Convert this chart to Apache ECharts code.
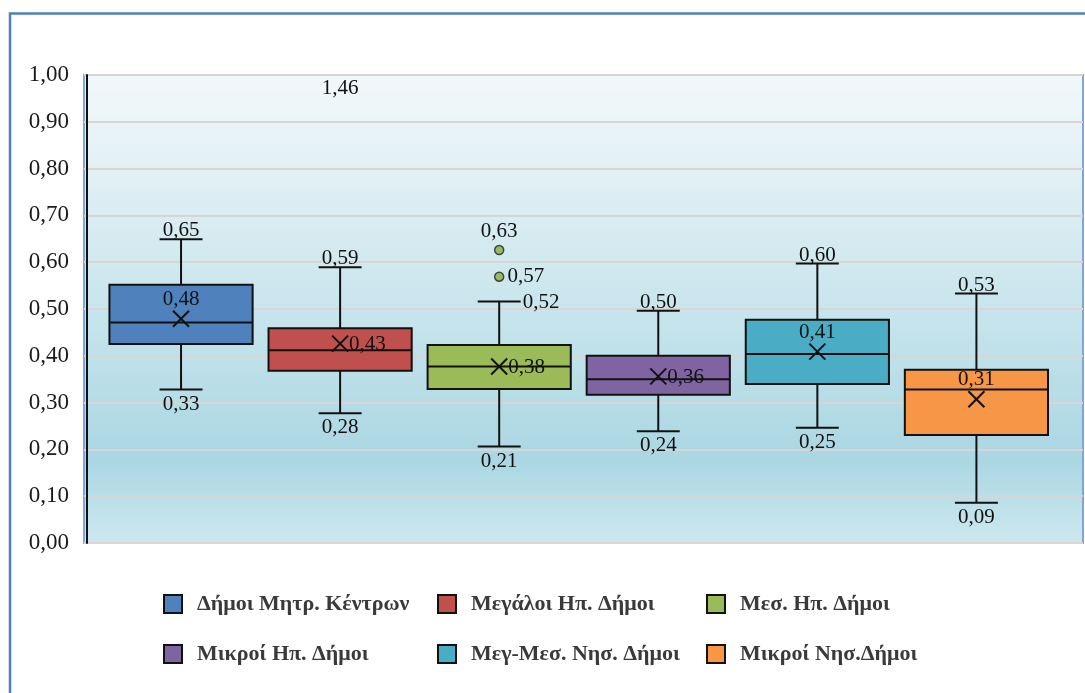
<!DOCTYPE html>
<html>
<head>
<meta charset="utf-8">
<title>Box plot - Δήμοι</title>
<script src="https://cdn.jsdelivr.net/npm/echarts@6/dist/echarts.min.js"></script>
<style>
html,body{margin:0;padding:0;background:#fff;}
#main{width:1085px;height:693px;}
</style>
</head>
<body>
<div id="main"></div>
<script>
// data
var groups = ['Δήμοι Μητρ. Κέντρων', 'Μεγάλοι Ηπ. Δήμοι', 'Μεσ. Ηπ. Δήμοι',
              'Μικροί Ηπ. Δήμοι', 'Μεγ-Μεσ. Νησ. Δήμοι', 'Μικροί Νησ.Δήμοι'];
var whiskerLow  = [0.328, 0.277, 0.206, 0.239, 0.246, 0.086];
var q1          = [0.425, 0.368, 0.329, 0.317, 0.340, 0.231];
var median      = [0.471, 0.412, 0.377, 0.350, 0.404, 0.328];
var q3          = [0.552, 0.459, 0.423, 0.400, 0.477, 0.370];
var whiskerHigh = [0.649, 0.589, 0.516, 0.496, 0.597, 0.533];
var means       = [0.479, 0.426, 0.377, 0.356, 0.409, 0.307];
var outliers    = [[], [1.46], [0.626, 0.569], [], [], []];
var yMin = 0, yMax = 1, yStep = 0.1;

// styling
var colors = ['#4F81BD', '#C0504D', '#9BBB59', '#8064A2', '#4BACC6', '#F79646'];
var meanLabelPos = ['top', 'right', 'right', 'right', 'top', 'top'];
var highLabelPos = ['top', 'top', 'right', 'top', 'top', 'top'];
var outlierLabelPos = [[], ['bottom'], ['top', 'right'], [], [], []];
var legendLeft = [163, 437, 706];
var legendTop = [593, 643];
var serif = 'Liberation Serif';
var labelSize = 21;

function fmt(v) { return v.toFixed(2).replace('.', ','); }

function txt(x, y, s, align, valign) {
    return {type: 'text', x: x, y: y, z2: 10,
        style: {text: s, fontFamily: serif, fontSize: labelSize, fill: '#111', align: align, verticalAlign: valign}};
}

function makeRender(i) {
    return function (params, api) {
        var x = api.value(0);
        var pLow = api.coord([x, api.value(1)]);
        var pQ1 = api.coord([x, api.value(2)]);
        var pMed = api.coord([x, api.value(3)]);
        var pQ3 = api.coord([x, api.value(4)]);
        var pHigh = api.coord([x, api.value(5)]);
        var pMean = api.coord([x, api.value(6)]);
        var unit = api.size([1, 0])[0];
        var half = unit * 0.45, cap = unit * 0.135, cx = pMed[0], m = 8;
        var ln = {stroke: '#111', lineWidth: 2};
        var kids = [
            {type: 'line', shape: {x1: cx, y1: pHigh[1], x2: cx, y2: pQ3[1]}, style: ln},
            {type: 'line', shape: {x1: cx, y1: pQ1[1], x2: cx, y2: pLow[1]}, style: ln},
            {type: 'line', shape: {x1: cx - cap, y1: pHigh[1], x2: cx + cap, y2: pHigh[1]}, style: ln},
            {type: 'line', shape: {x1: cx - cap, y1: pLow[1], x2: cx + cap, y2: pLow[1]}, style: ln},
            {type: 'rect', shape: {x: cx - half, y: pQ3[1], width: half * 2, height: pQ1[1] - pQ3[1]},
                style: {fill: api.visual('color'), stroke: '#111', lineWidth: 2}},
            {type: 'line', shape: {x1: cx - half, y1: pMed[1], x2: cx + half, y2: pMed[1]}, style: ln},
            {type: 'line', shape: {x1: cx - m, y1: pMean[1] - m, x2: cx + m, y2: pMean[1] + m}, style: ln},
            {type: 'line', shape: {x1: cx - m, y1: pMean[1] + m, x2: cx + m, y2: pMean[1] - m}, style: ln},
            txt(cx, pLow[1] + 4, fmt(api.value(1)), 'center', 'top')
        ];
        if (highLabelPos[i] === 'right') {
            kids.push(txt(cx + cap + 2, pHigh[1] + 1, fmt(api.value(5)), 'left', 'middle'));
        } else {
            kids.push(txt(cx, pHigh[1] + 2, fmt(api.value(5)), 'center', 'bottom'));
        }
        if (meanLabelPos[i] === 'right') {
            kids.push(txt(cx + m + 1, pMean[1] + 1, fmt(api.value(6)), 'left', 'middle'));
        } else {
            kids.push(txt(cx, pMean[1] - m - 1, fmt(api.value(6)), 'center', 'bottom'));
        }
        return {type: 'group', children: kids};
    };
}

var series = [];
groups.forEach(function (name, i) {
    series.push({
        name: name,
        type: 'custom',
        renderItem: makeRender(i),
        itemStyle: {color: colors[i]},
        encode: {x: 0, y: [1, 2, 3, 4, 5, 6]},
        clip: false,
        data: [[i + 1, whiskerLow[i], q1[i], median[i], q3[i], whiskerHigh[i], means[i]]]
    });
    if (outliers[i].length) {
        series.push({
            name: name,
            type: 'scatter',
            z: 5,
            itemStyle: {color: colors[i], borderColor: '#444', borderWidth: 1.5, opacity: 1},
            label: {
                show: true, fontFamily: serif, fontSize: labelSize, color: '#111', distance: 3,
                formatter: function (p) { return fmt(p.data.raw); }
            },
            data: outliers[i].map(function (v, k) {
                return {
                    value: [i + 1, Math.min(v, yMax)],
                    raw: v,
                    symbolSize: v > yMax ? 0 : 9,
                    label: {position: outlierLabelPos[i][k]}
                };
            })
        });
    }
});

var legends = groups.map(function (name, i) {
    return {
        data: [name],
        left: legendLeft[i % 3],
        top: legendTop[Math.floor(i / 3)],
        padding: 0,
        icon: 'rect',
        itemWidth: 18,
        itemHeight: 18,
        itemStyle: {borderColor: '#111', borderWidth: 2},
        textStyle: {fontFamily: serif, fontWeight: 'bold', fontSize: 22, color: '#3a3a3a', padding: [0, 0, 0, 10]}
    };
});

var chart = echarts.init(document.getElementById('main'));
chart.setOption({
    animation: false,
    backgroundColor: '#fff',
    graphic: [{
        type: 'rect', silent: true,
        shape: {x: 10, y: 13.5, width: 1200, height: 800},
        style: {fill: 'none', stroke: '#4F81BD', lineWidth: 2.5}
    }],
    legend: legends,
    grid: {
        left: 84, right: 2, top: 75, bottom: 150,
        show: true,
        borderColor: '#7FA6D6', borderWidth: 2,
        backgroundColor: {
            type: 'linear', x: 0, y: 0, x2: 0, y2: 1,
            colorStops: [
                {offset: 0, color: '#F3F8FA'},
                {offset: 0.45, color: '#CDE7EE'},
                {offset: 0.82, color: '#AAD7E3'},
                {offset: 1, color: '#CDE8EF'}
            ]
        }
    },
    xAxis: {type: 'value', min: 0.39, max: 6.67, show: false},
    yAxis: {
        type: 'value', min: yMin, max: yMax, interval: yStep,
        offset: -3,
        axisLine: {show: true, lineStyle: {color: '#111', width: 2}},
        axisTick: {show: false},
        axisLabel: {
            margin: 18, fontFamily: serif, fontSize: 23, color: '#1a1a1a',
            formatter: function (v) { return fmt(v); }
        },
        splitLine: {lineStyle: {color: '#D9D5D5', width: 2}}
    },
    series: series
});
</script>
</body>
</html>
